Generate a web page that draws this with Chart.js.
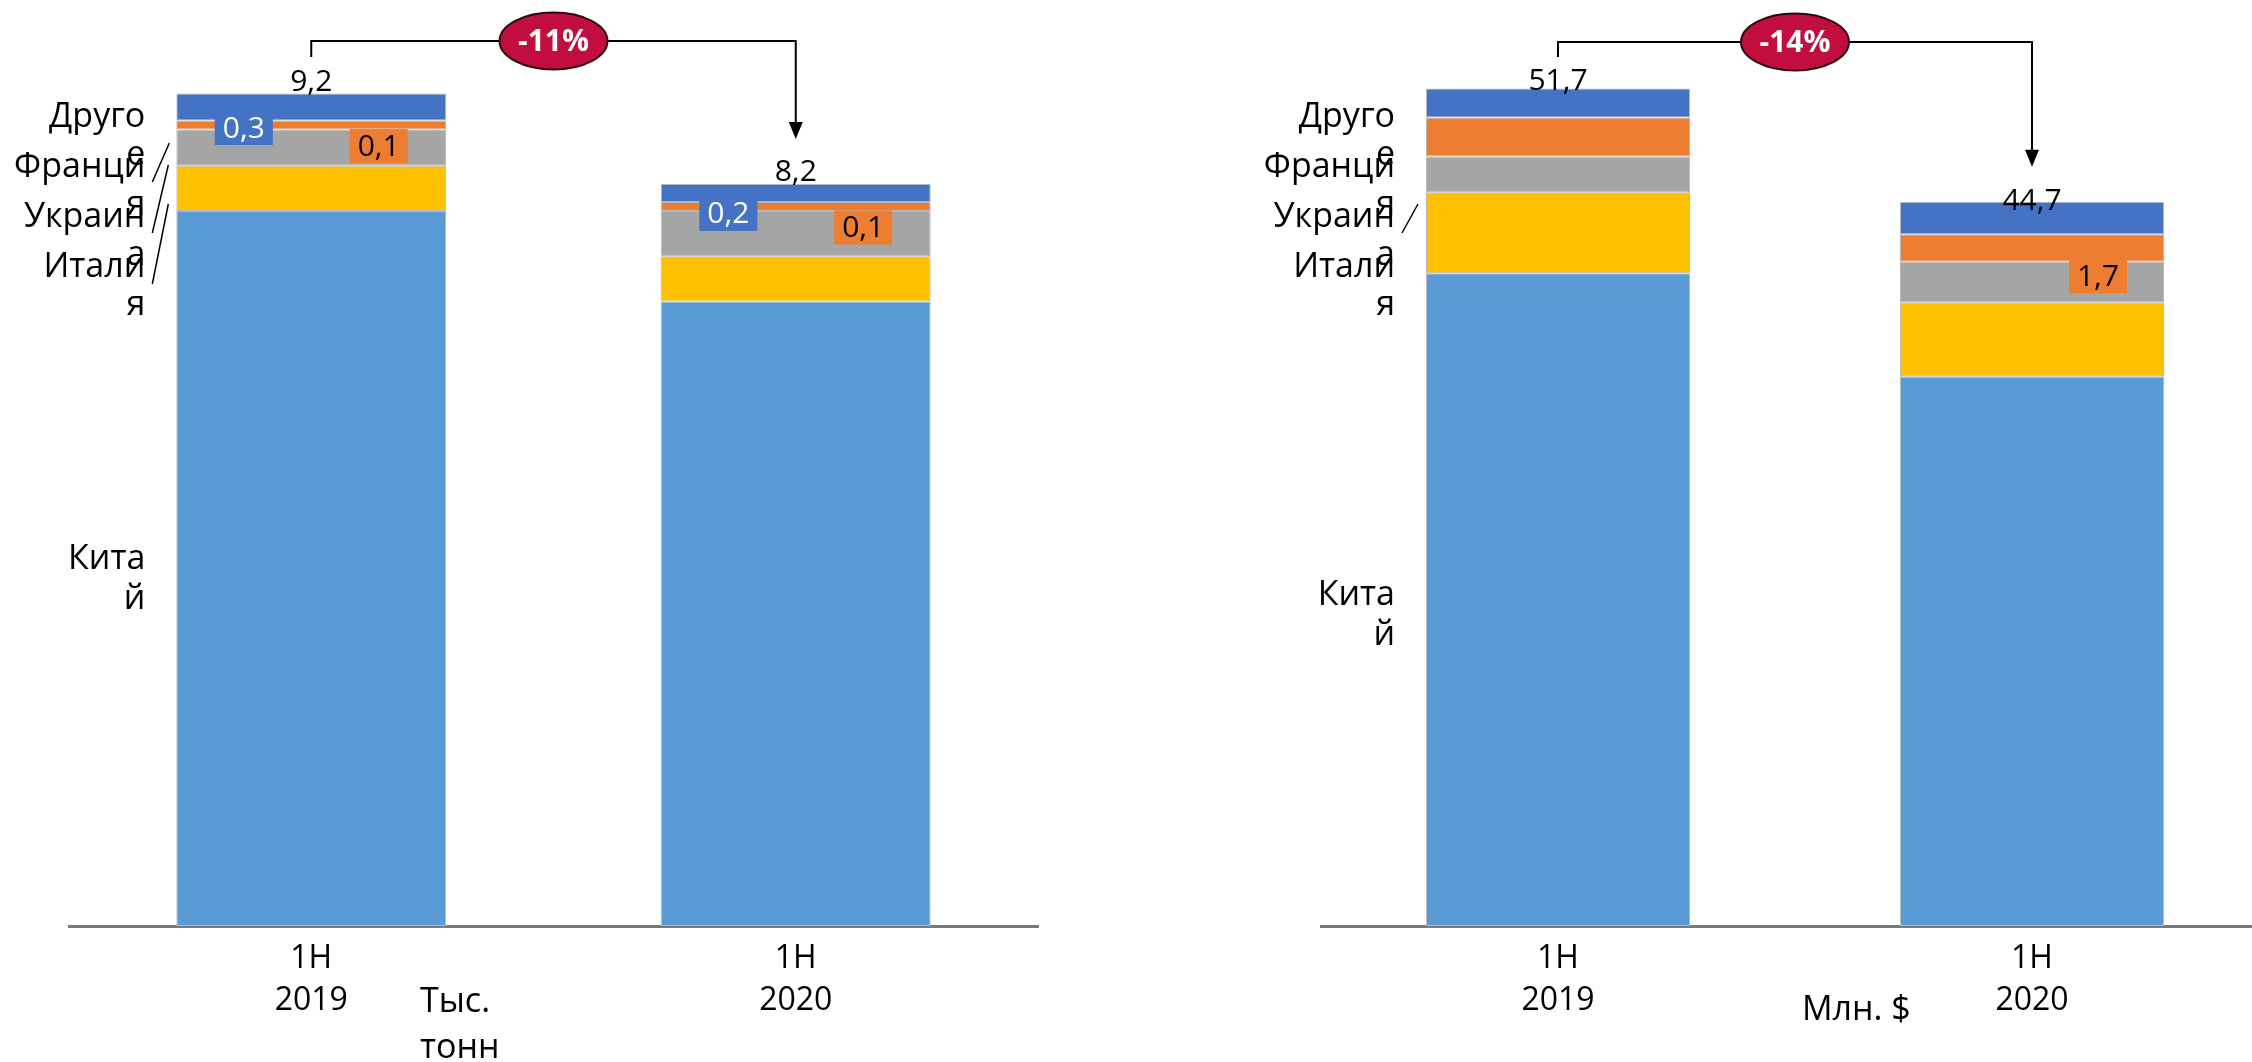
<!DOCTYPE html>
<html lang="ru">
<head>
<meta charset="utf-8">
<title>Импорт: объём и стоимость, 1H 2019 – 1H 2020</title>
<script src="https://cdn.jsdelivr.net/npm/chart.js@4/dist/chart.umd.min.js"></script>
<style>
  html, body { margin: 0; padding: 0; background: #fff; overflow: hidden; width: 2252px; height: 1062px; }
  .panel { position: absolute; top: 0; height: 1062px; }
  #panelVolume { left: 0; width: 1126px; }
  #panelValue { left: 1126px; width: 1150px; }
</style>
</head>
<body>
<div class="panel" id="panelVolume"><canvas id="volume" width="1126" height="1062"></canvas></div>
<div class="panel" id="panelValue"><canvas id="value" width="1150" height="1062"></canvas></div>
<script>
// ---- data ----
const categories = [['1H', '2019'], ['1H', '2020']];
const seriesNames = ['Китай', 'Италия', 'Украина', 'Франция', 'Другое'];
// names are wrapped onto two lines in the narrow label column
const seriesLabelLines = [['Кита', 'й'], ['Итали', 'я'], ['Украин', 'а'], ['Франци', 'я'], ['Друго', 'е']];
const seriesColors = ['#5B9BD5', '#FFC000', '#A5A5A5', '#ED7D31', '#4472C4'];

// volume, thousand tonnes
const volChina   = [7.9, 6.9];
const volItaly   = [0.5, 0.5];
const volUkraine = [0.4, 0.5];
const volFrance  = [0.1, 0.1];
const volOther   = [0.3, 0.2];
const volTotals  = [9.2, 8.2];
const volChange  = '-11%';
const volFranceShown = [true, true];
const volOtherShown  = [true, true];

// value, million USD
const valChina   = [40.3, 33.9];
const valItaly   = [5.0, 4.6];
const valUkraine = [2.2, 2.5];
const valFrance  = [2.4, 1.7];
const valOther   = [1.8, 2.0];
const valTotals  = [51.7, 44.7];
const valChange  = '-14%';
const valFranceShown = [false, true];
const valOtherShown  = [false, false];

const FONT = '"Open Sans", "Noto Sans", sans-serif';

function fmt(v) { return v.toFixed(1).replace('.', ','); }

function makeOverlay(cfg) {
  return {
    id: 'overlay',
    afterDatasetsDraw(chart) {
      const ctx = chart.ctx;
      const yScale = chart.scales.y;
      const seg = (ds, j) => chart.getDatasetMeta(ds).data[j].getProps(['x', 'y', 'base', 'width'], true);
      const first = seg(0, 0);
      const barLeft = first.x - first.width / 2;

      ctx.save();

      // series names to the left of the first bar
      ctx.font = '34px ' + FONT;
      ctx.fillStyle = '#000';
      ctx.textAlign = 'right';
      ctx.textBaseline = 'alphabetic';
      const labelX = barLeft - 31;
      const stackOrder = [4, 3, 2, 1];
      stackOrder.forEach((ds, k) => {
        const base = cfg.stackLabelTop + k * 50;
        seriesLabelLines[ds].forEach((line, i) => ctx.fillText(line, labelX, base + i * 38));
      });
      const china = seg(0, 0);
      const chinaBase = (china.y + china.base) / 2 + cfg.chinaShift;
      seriesLabelLines[0].forEach((line, i) => ctx.fillText(line, labelX, chinaBase + i * 40));

      // leader lines
      ctx.strokeStyle = '#000';
      ctx.lineWidth = 1.5;
      cfg.leaders.forEach(([dx0, y0, dx1, y1]) => {
        ctx.beginPath();
        ctx.moveTo(barLeft + dx0, y0);
        ctx.lineTo(barLeft + dx1, y1);
        ctx.stroke();
      });

      // boxed value labels for small segments
      const boxLabel = (ds, j, frac, shift, bg, fg) => {
        const s = seg(ds, j);
        const cx = s.x - s.width / 2 + s.width * frac;
        const cy = (s.y + s.base) / 2 + shift;
        const txt = fmt(cfg.series[ds][j]);
        ctx.font = '30px ' + FONT;
        const w = ctx.measureText(txt).width + 16;
        const h = 34;
        ctx.fillStyle = bg;
        ctx.fillRect(cx - w / 2, cy - h / 2, w, h);
        ctx.fillStyle = fg;
        ctx.textAlign = 'center';
        ctx.textBaseline = 'middle';
        ctx.fillText(txt, cx, cy + 1);
      };
      cfg.otherShown.forEach((on, j) => { if (on) boxLabel(4, j, 0.25, 21, seriesColors[4], '#fff'); });
      cfg.franceShown.forEach((on, j) => { if (on) boxLabel(3, j, 0.75, cfg.franceShift, seriesColors[3], '#000'); });

      // totals above each stack
      ctx.font = '30px ' + FONT;
      ctx.fillStyle = '#000';
      ctx.textAlign = 'center';
      ctx.textBaseline = 'alphabetic';
      cfg.totals.forEach((t, j) => {
        const b = seg(0, j);
        ctx.fillText(fmt(t), b.x, yScale.getPixelForValue(t) + cfg.totalShift[j]);
      });

      // change bracket with arrow
      const b1 = seg(0, 0), b2 = seg(0, 1);
      const top2 = yScale.getPixelForValue(cfg.totals[1]);
      const yb = cfg.bracketY;
      const tip = top2 - cfg.arrowGap;
      ctx.strokeStyle = '#000';
      ctx.lineWidth = 2;
      ctx.beginPath();
      ctx.moveTo(b1.x, cfg.bracketStart);
      ctx.lineTo(b1.x, yb);
      ctx.lineTo(b2.x, yb);
      ctx.lineTo(b2.x, tip - 14);
      ctx.stroke();
      ctx.beginPath();
      ctx.moveTo(b2.x, tip);
      ctx.lineTo(b2.x - 7, tip - 17);
      ctx.lineTo(b2.x + 7, tip - 17);
      ctx.closePath();
      ctx.fillStyle = '#000';
      ctx.fill();

      const mx = (b1.x + b2.x) / 2;
      ctx.beginPath();
      ctx.ellipse(mx, yb, 54, 28.5, 0, 0, Math.PI * 2);
      ctx.fillStyle = '#C20E3F';
      ctx.fill();
      ctx.lineWidth = 2;
      ctx.strokeStyle = '#2a0a10';
      ctx.stroke();
      ctx.font = 'bold 30px ' + FONT;
      ctx.fillStyle = '#fff';
      ctx.textAlign = 'center';
      ctx.textBaseline = 'middle';
      ctx.fillText(cfg.change, mx, yb + 1);

      // unit caption
      ctx.font = '34px ' + FONT;
      ctx.fillStyle = '#000';
      ctx.textAlign = 'left';
      ctx.textBaseline = 'alphabetic';
      cfg.unitLines.forEach((line, i) => ctx.fillText(line, cfg.unitX, cfg.unitY + i * 46));

      ctx.restore();
    }
  };
}

function makeChart(canvasId, cfg) {
  const datasets = seriesNames.map((name, i) => ({
    label: name,
    data: cfg.series[i],
    backgroundColor: seriesColors[i],
    borderColor: '#b9b9b9',
    borderWidth: 1,
    borderSkipped: false,
    barPercentage: 0.557,
    categoryPercentage: 1
  }));
  return new Chart(document.getElementById(canvasId), {
    type: 'bar',
    data: { labels: categories, datasets },
    options: {
      responsive: false,
      animation: false,
      events: [],
      layout: { padding: { top: cfg.padTop, left: cfg.padLeft, right: cfg.padRight, bottom: 0 } },
      plugins: { legend: { display: false }, tooltip: { enabled: false } },
      scales: {
        x: {
          stacked: true,
          grid: { display: false, drawTicks: false },
          border: { display: true, color: '#7a7a7a', width: 3 },
          ticks: { color: '#000', font: { family: FONT, size: 32, lineHeight: 1.3 }, padding: 12, maxRotation: 0 },
          afterFit: (scale) => { scale.height = 136; }
        },
        y: { stacked: true, display: false, min: 0, max: cfg.max }
      }
    },
    plugins: [makeOverlay(cfg)]
  });
}

function build() {
  makeChart('volume', {
    series: [volChina, volItaly, volUkraine, volFrance, volOther],
    totals: volTotals, change: volChange,
    franceShown: volFranceShown, otherShown: volOtherShown,
    max: 10, padTop: 21, padLeft: 69, padRight: 88,
    stackLabelTop: 127, chinaShift: 0, franceShift: 21,
    totalShift: [-2, -3],
    leaders: [[-24, 182, -7, 143], [-24, 233, -8, 165], [-24, 284, -8, 204]],
    bracketStart: 57, bracketY: 41, arrowGap: 45,
    unitLines: ['Тыс.', 'тонн'], unitX: 420, unitY: 1012
  });
  makeChart('value', {
    series: [valChina, valItaly, valUkraine, valFrance, valOther],
    totals: valTotals, change: valChange,
    franceShown: valFranceShown, otherShown: valOtherShown,
    max: 55, padTop: 35, padLeft: 195, padRight: 7,
    stackLabelTop: 127, chinaShift: 5, franceShift: 28,
    totalShift: [2, 8],
    leaders: [[-24, 233, -8, 204]],
    bracketStart: 57, bracketY: 42, arrowGap: 35,
    unitLines: ['Млн. $'], unitX: 676, unitY: 1020
  });
}

if (document.fonts && document.fonts.load) {
  Promise.all([
    document.fonts.load('34px "Open Sans"'),
    document.fonts.load('bold 30px "Open Sans"')
  ]).then(build, build);
} else {
  build();
}
</script>
</body>
</html>
